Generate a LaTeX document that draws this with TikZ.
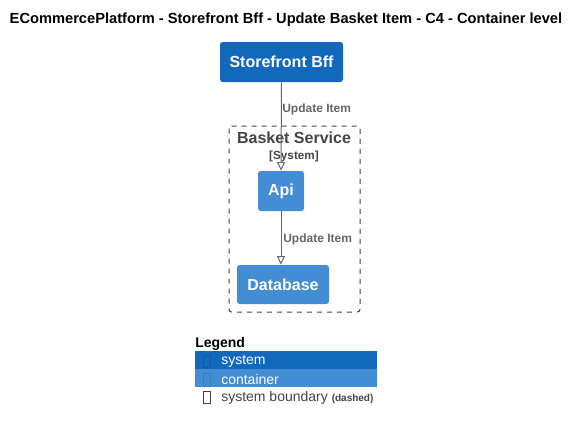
\documentclass[tikz,border=0pt]{standalone}
\usepackage{fontspec}
\setmainfont{Liberation Sans}
\usepackage{tikz}
\usetikzlibrary{positioning,arrows.meta}
\definecolor{sysblue}{HTML}{1168BD}
\definecolor{contblue}{HTML}{438DD5}
\definecolor{relgray}{HTML}{666666}
\definecolor{bndgray}{HTML}{444444}

\begin{document}
\begin{tikzpicture}[x=0.75pt, y=-0.75pt,
    elem/.style={rounded corners=2pt, inner sep=0pt, text=white,
                 font=\fontsize{12}{14}\selectfont\bfseries},
    rel/.style={draw=relgray, line width=0.75pt, -{Triangle[open, length=6.5pt, width=6pt]}},
    rellabel/.style={text=relgray, font=\fontsize{9}{10}\selectfont\bfseries, inner sep=0pt, anchor=west},
    legrow/.style={minimum width=136.5pt, minimum height=13.5pt, inner sep=0pt, anchor=north west},
    legtext/.style={font=\fontsize{10.5}{12}\selectfont, inner sep=0pt, anchor=west},
    tofu/.style={draw, line width=0.4pt},
  ]
  \useasboundingbox (0,0) rectangle (579,430);

  % title
  \node[font=\fontsize{11}{12}\selectfont\bfseries] (title) at (286,20)
    {ECommercePlatform - Storefront Bff - Update Basket Item - C4 - Container level};

  % boundary
  \draw[bndgray, line width=0.75pt, dash pattern=on 3.75pt off 3.75pt, rounded corners=2pt]
    (229,126) rectangle (360,312);
  \node[text=bndgray, font=\fontsize{12}{14}\selectfont\bfseries] (bndname) at (294,138) {Basket Service};
  \node[text=bndgray, font=\fontsize{8.8}{10}\selectfont\bfseries] (bndtype) at (294,156) {[System]};

  % elements
  \node[elem, fill=sysblue, minimum width=92.25pt, minimum height=30pt] (bff) at (281.5,62) {Storefront Bff};
  \node[elem, fill=contblue, minimum width=34.5pt, minimum height=30pt] (api) at (281,191) {Api};
  \node[elem, fill=contblue, minimum width=69pt, minimum height=29.25pt] (db) at (283,284.5) {Database};

  % relations
  \draw[rel] (bff.south) -- (api.north);
  \node[rellabel] (rel1) at (282,109.5) {Update Item};
  \draw[rel] (api.south) -- (db.north -| api.south);
  \node[rellabel] (rel2) at (283,239.5) {Update Item};

  % legend
  \node[font=\fontsize{10.5}{12}\selectfont\bfseries, inner sep=0pt, anchor=west] (leg) at (195,344) {Legend};
  \node[legrow, fill=sysblue] (legsys) at (195,351) {};
  \node[legrow, fill=contblue] (legcont) at (195,369) {};
  \node[legrow] (legbnd) at (195,387) {};
  \draw[tofu, draw=sysblue!88!black] (203,355) rectangle (210,367);
  \draw[tofu, draw=contblue!88!black] (203,373) rectangle (210,385);
  \draw[tofu, draw=bndgray] (203,391) rectangle (210,403);
  \node[legtext, text=white] (tsys) at (221,361.5) {system};
  \node[legtext, text=white] (tcont) at (221,379.5) {container};
  \node[legtext, text=bndgray] (tbnd) at (221,397.5)
    {system boundary \fontsize{7.5}{8}\selectfont\bfseries(dashed)};
\end{tikzpicture}
\end{document}
